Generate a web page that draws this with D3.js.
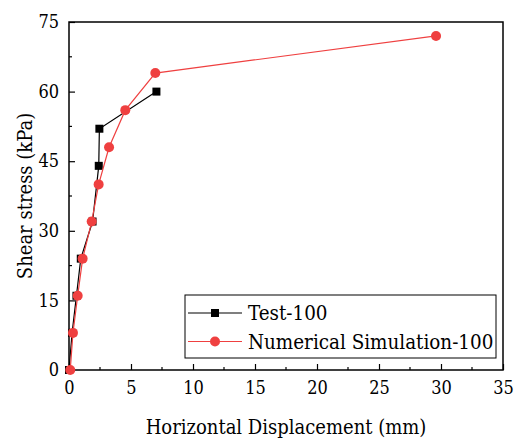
<!DOCTYPE html>
<html>
<head>
<meta charset="utf-8">
<script src="https://cdn.jsdelivr.net/npm/d3@7"></script>
<style>
  body { margin: 0; background: #fff; }
</style>
</head>
<body>
<div id="chart"></div>
<script>
var testX = [0, 0.25, 0.6, 0.95, 1.9, 2.4, 2.45, 7.05];
var testY = [0, 8, 16, 24, 32, 44, 52, 60];
var simX = [0.1, 0.32, 0.7, 1.1, 1.83, 2.39, 3.23, 4.54, 6.96, 29.6];
var simY = [0, 8, 16, 24, 32, 40, 48, 56, 64, 72];
var xTicks = [0, 5, 10, 15, 20, 25, 30, 35];
var yTicks = [0, 15, 30, 45, 60, 75];
var seriesNames = ['Test-100', 'Numerical Simulation-100'];

var W = 518, H = 442;
var margin = {top: 22, right: 15, bottom: 72, left: 69};
var width = W - margin.left - margin.right,
    height = H - margin.top - margin.bottom;
var red = '#ef4040';
var serif = "'DejaVu Serif Condensed', 'DejaVu Serif', serif";

var svg = d3.select('#chart').append('svg')
    .attr('width', W).attr('height', H)
    .attr('font-family', serif)
    .style('font-stretch', 'condensed');
var g = svg.append('g')
    .attr('transform', 'translate(' + margin.left + ',' + margin.top + ')');

var x = d3.scaleLinear().domain([0, 35]).range([0, width]);
var y = d3.scaleLinear().domain([0, 75]).range([height, 0]);

// minor ticks
var xMinor = d3.range(2.5, 35, 5);
var yMinor = d3.range(7.5, 75, 15);
g.selectAll('.xminor').data(xMinor).enter().append('line')
    .attr('x1', d => x(d)).attr('x2', d => x(d))
    .attr('y1', height).attr('y2', height - 3)
    .attr('stroke', '#000').attr('stroke-width', 1.2);
g.selectAll('.yminor').data(yMinor).enter().append('line')
    .attr('x1', 0).attr('x2', 3)
    .attr('y1', d => y(d)).attr('y2', d => y(d))
    .attr('stroke', '#000').attr('stroke-width', 1.2);

var xAxis = g.append('g')
    .attr('transform', 'translate(0,' + height + ')')
    .call(d3.axisBottom(x).tickValues(xTicks).tickSizeInner(-6).tickSizeOuter(0).tickPadding(11));
var yAxis = g.append('g')
    .call(d3.axisLeft(y).tickValues(yTicks).tickSizeInner(-6).tickSizeOuter(0).tickPadding(10));
[xAxis, yAxis].forEach(function(a) {
  a.attr('font-family', serif).attr('font-size', 18);
  a.select('.domain').remove();
  a.selectAll('line').attr('stroke', '#000').attr('stroke-width', 1.2);
  a.selectAll('text').attr('fill', '#000');
});

// frame
g.append('rect').attr('width', width).attr('height', height)
    .attr('fill', 'none').attr('stroke', '#000').attr('stroke-width', 1.5);

var line = d3.line().x(d => x(d[0])).y(d => y(d[1]));
var testPts = testX.map((v, i) => [v, testY[i]]);
var simPts = simX.map((v, i) => [v, simY[i]]);

g.append('path').datum(testPts).attr('d', line)
    .attr('fill', 'none').attr('stroke', '#000').attr('stroke-width', 1.2);
g.selectAll('.sq').data(testPts).enter().append('rect')
    .attr('x', d => x(d[0]) - 4).attr('y', d => y(d[1]) - 4)
    .attr('width', 8).attr('height', 8).attr('fill', '#000');

g.append('path').datum(simPts).attr('d', line)
    .attr('fill', 'none').attr('stroke', red).attr('stroke-width', 1.2);
g.selectAll('.ci').data(simPts).enter().append('circle')
    .attr('cx', d => x(d[0])).attr('cy', d => y(d[1]))
    .attr('r', 5).attr('fill', red);

// legend
var lg = svg.append('g').attr('transform', 'translate(185,295)');
lg.append('rect').attr('width', 311).attr('height', 63)
    .attr('fill', '#fff').attr('stroke', '#000').attr('stroke-width', 1);
seriesNames.forEach(function(name, i) {
  var ly = 18 + i * 28.5;
  var col = i === 0 ? '#000' : red;
  lg.append('line').attr('x1', 3).attr('x2', 57).attr('y1', ly).attr('y2', ly)
      .attr('stroke', col).attr('stroke-width', 1.2);
  if (i === 0) {
    lg.append('rect').attr('x', 26).attr('y', ly - 4).attr('width', 8).attr('height', 8).attr('fill', col);
  } else {
    lg.append('circle').attr('cx', 30).attr('cy', ly).attr('r', 5).attr('fill', col);
  }
  lg.append('text').attr('x', 63).attr('y', ly + 7)
      .attr('font-size', 20.4).attr('fill', '#000').text(name);
});

// axis titles
svg.append('text')
    .attr('x', margin.left + width / 2).attr('y', 434)
    .attr('text-anchor', 'middle').attr('font-size', 20)
    .text('Horizontal Displacement (mm)');
svg.append('text')
    .attr('transform', 'translate(32,' + (margin.top + height / 2) + ') rotate(-90)')
    .attr('text-anchor', 'middle').attr('font-size', 20)
    .text('Shear stress (kPa)');
</script>
</body>
</html>
